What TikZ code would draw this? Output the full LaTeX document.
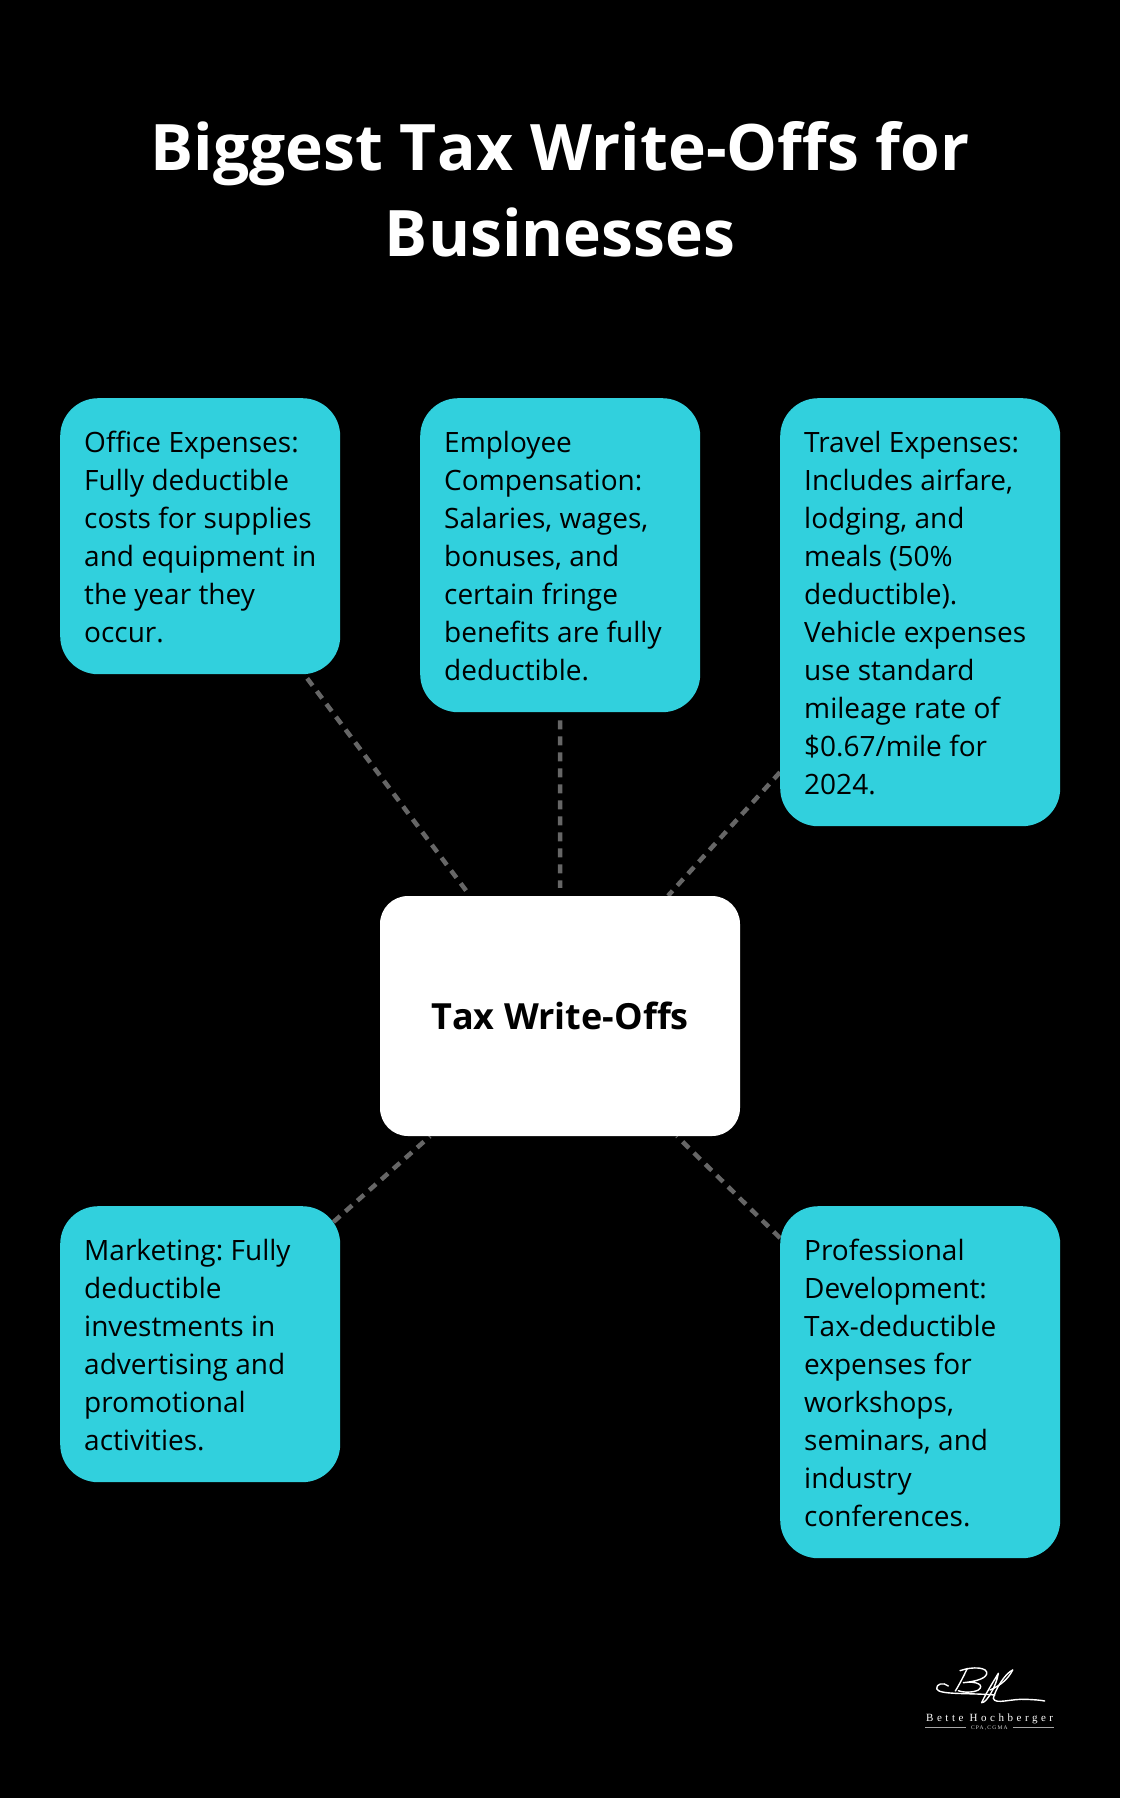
\documentclass[tikz,border=0pt]{standalone}
\usepackage{fontspec}
\setmainfont{Open Sans}
\newfontfamily\logofont[LetterSpace=32]{Liberation Serif}
\newfontfamily\logosmall[LetterSpace=22]{Liberation Serif}
\usetikzlibrary{calc}
\pgfdeclarelayer{back}
\pgfsetlayers{back,main}
\definecolor{cardcol}{HTML}{31D0DD}
\definecolor{linkcol}{HTML}{666666}
\newcommand\cardsetup{\setlength{\spaceskip}{7.4pt}}
\newcommand\cardend{\par\kern-2pt}
\tikzset{
  x=1pt,y=-1pt,
  card/.style={anchor=north west,fill=cardcol,rounded corners=38pt,text=black,
    text width=232pt,inner xsep=24pt,inner ysep=18pt,align=left,minimum width=280pt,
    font=\frenchspacing\fontsize{28}{38}\selectfont},
  hub/.style={fill=white,rounded corners=28pt,minimum width=360pt,minimum height=240pt,
    inner sep=0pt,text=black,font=\fontsize{36}{44}\selectfont\bfseries},
  headline/.style={text=white,align=center,inner sep=0pt,font=\fontsize{64.1}{86}\selectfont\bfseries},
  link/.style={draw=linkcol,line width=4.5pt,dash pattern=on 9pt off 7pt},
  sig/.style={draw=white,line width=1.4pt,line cap=round,line join=round},
  logorule/.style={draw=white!65!black,line width=1pt}
}
\begin{document}
\begin{tikzpicture}
\useasboundingbox (0,0) rectangle (1120,1798);
\begin{pgfonlayer}{back}
\fill[black] (0,0) rectangle (1120,1798);
\end{pgfonlayer}
\node[headline] (title) at (560,189) {Biggest T\kern0.9pt ax Write-Offs for\\Businesses};
\node[hub] (hub) at (560,1016) {\raisebox{-2.5pt}{T\kern0.2pt ax Write-Offs}};
\node[card,minimum height=276pt] (office) at (60,398) {\cardsetup Office Expenses:\\Fully deductible\\costs for supplies\\\makebox[232pt][l]{and equipment in}\\the year they\\occur.\cardend};
\node[card,minimum height=314pt] (staff) at (420,398) {\cardsetup Employee\\Compensation:\\Salaries, wages,\\bonuses, and\\certain fringe\\benefits are fully\\deductible.\cardend};
\node[card,minimum height=428pt] (travel) at (780,398) {\cardsetup Travel Expenses:\\Includes airfare,\\lodging, and\\meals (50\%\\deductible).\\Vehicle expenses\\use standard\\mileage rate of\\\$0.67/mile for\\2024.\cardend};
\node[card,minimum height=276pt] (market) at (60,1206) {\cardsetup Marketing: Fully\\deductible\\investments in\\advertising and\\promotional\\activities.\cardend};
\node[card,minimum height=352pt] (prof) at (780,1206) {\cardsetup Professional\\Development:\\T\kern0pt ax-deductible\\expenses for\\workshops,\\seminars, and\\industry\\conferences.\cardend};
\begin{pgfonlayer}{back}
\draw[link] ($(office.south)+(107,4)$) -- ($(hub.north)+(-90,0)$);
\draw[link] ($(staff.south)+(0,8)$) -- ($(hub.north)+(0,-8)$);
\draw[link] ($(travel.west)+(0,160)$) -- ($(hub.north)+(108,0)$);
\draw[link] ($(market.north east)+(-7,16)$) -- ($(hub.south)+(-130,0)$);
\draw[link] ($(prof.north west)+(0,32)$) -- ($(hub.south)+(117,0)$);
\end{pgfonlayer}
% signature logo
\begin{scope}[shift={(880,1640)},x=0.3333pt,y=-0.3333pt]
\draw[sig] (205,138) .. controls (190,125) and (168,132) .. (170,146) .. controls (175,165) and (260,158) .. (345,165);
\draw[sig] (262,85) .. controls (250,110) and (240,130) .. (226,153);
\draw[sig] (240,92) .. controls (280,78) and (325,82) .. (320,102) .. controls (315,118) and (280,125) .. (250,128) .. controls (290,122) and (315,135) .. (295,150) .. controls (280,158) and (250,158) .. (235,152);
\draw[sig] (305,188) .. controls (315,165) and (340,125) .. (355,100) .. controls (350,135) and (320,190) .. (305,188);
\draw[sig] (398,90) .. controls (375,100) and (345,150) .. (340,175) .. controls (345,195) and (395,175) .. (440,178) .. controls (460,179) and (480,180) .. (494,183);
\draw[sig] (398,90) .. controls (385,115) and (365,135) .. (330,150);
\node[text=white,inner sep=0pt,font=\logofont\fontsize{11}{12}\selectfont] (logoname) at (329,236) {Bette Hochberger};
\node[text=white!85!black,inner sep=0pt,font=\logosmall\fontsize{5.5}{6}\selectfont] (logosub) at (328,263) {CPA,CGMA};
\draw[logorule] (136,262) -- (258,262);
\draw[logorule] (400,262) -- (522,262);
\end{scope}
\end{tikzpicture}
\end{document}
